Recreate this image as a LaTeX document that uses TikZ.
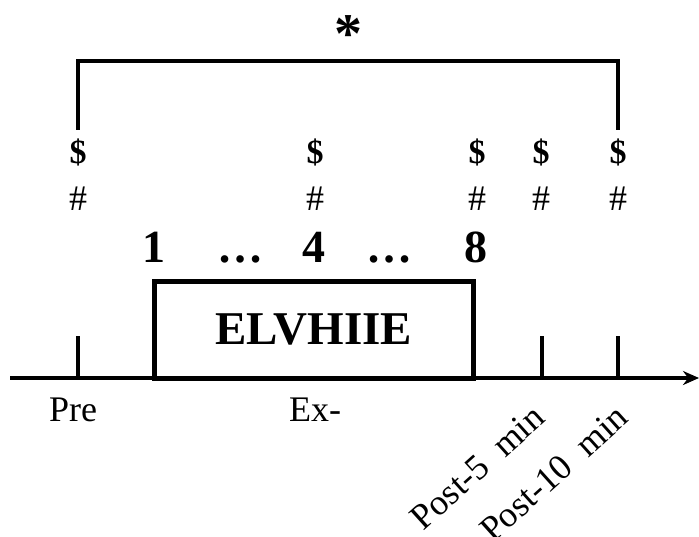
\documentclass[tikz,border=0pt]{standalone}
\usepackage{fontspec}
\setmainfont{Liberation Serif}
\usetikzlibrary{arrows.meta}
\begin{document}
\begin{tikzpicture}[x=1pt,y=-1pt,line width=4pt,
    sig/.style={anchor=base,font=\fontsize{36}{36}\selectfont},
    num/.style={anchor=base,font=\bfseries\fontsize{46}{46}\selectfont},
    lab/.style={font=\fontsize{36}{36}\selectfont},
    rlab/.style={lab,rotate=42,anchor=north east,inner sep=0pt}]
  \useasboundingbox (0,0) rectangle (699,536);
  \draw
    (12,378) coordinate (s)
    (699,378) coordinate (e)
    (78,378) coordinate (t0)
    (542,378) coordinate (t5)
    (618,378) coordinate (t10)
    (78,128) coordinate (bl)
    (618,128) coordinate (br);
  \node[draw,line width=5pt,minimum width=319,minimum height=97,
    font=\bfseries\fontsize{47}{47}\selectfont] (box) at (313.5,329.5) {ELVHIIE};
  \draw
    (348,34) node[font=\bfseries\fontsize{56}{56}\selectfont] (star){*}
    (154,262) node[num] (n1){1}
    (240,262) node[num] (d1){\dots}
    (314,262) node[num] (n4){4}
    (389,262) node[num] (d2){\dots}
    (476,262) node[num] (n8){8};
  \foreach \x in {78,315,477,541,618} {
    \node[sig,font=\bfseries\fontsize{34}{34}\selectfont] (s\x) at (\x,163) {\$};
    \node[sig] (h\x) at (\x,210) {\#};
  }
  \draw (73,410) node[lab] (pre){Pre}
    (315,410) node[lab] (ex){Ex-}
    (531,400) node[rlab] (p5){Post-5\ \ min}
    (614,400) node[rlab] (p10){Post-10\ \ min};
  \begin{scope}[line cap=rect]
    \draw[-{Stealth[length=16pt,width=14pt]}] (s) -- (e);
    \draw (t0) -- ++(0,-40);
    \draw (t5) -- ++(0,-40);
    \draw (t10) -- ++(0,-40);
    \draw (bl) -- ++(0,-67) -| (br);
  \end{scope}
\end{tikzpicture}
\end{document}
